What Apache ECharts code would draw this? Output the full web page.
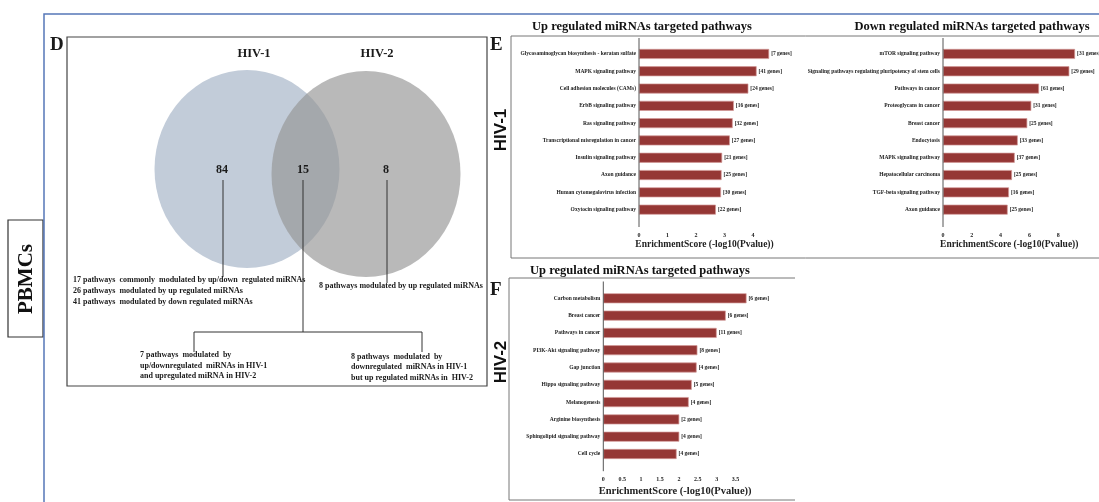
<!DOCTYPE html>
<html><head><meta charset="utf-8">
<script src="https://cdn.jsdelivr.net/npm/echarts@6/dist/echarts.min.js"></script>
<style>html,body{margin:0;padding:0;background:#fff}#c{width:1099px;height:502px}</style>
</head><body><div id="c"></div>
<script>
const SERIF = "'Liberation Serif','Times New Roman',serif";
const SANS = "'Liberation Sans',Arial,sans-serif";

// ---- Panel E (HIV-1, up regulated) ----
const e1Categories = ['Glycosaminoglycan biosynthesis - keratan sulfate','MAPK signaling pathway','Cell adhesion molecules (CAMs)','ErbB signaling pathway','Ras signaling pathway','Transcriptional misregulation in cancer','Insulin signaling pathway','Axon guidance','Human cytomegalovirus infection','Oxytocin signaling pathway'];
const e1Values = [4.57, 4.13, 3.84, 3.33, 3.29, 3.19, 2.92, 2.90, 2.88, 2.70];
const e1Genes = [7, 41, 24, 16, 32, 27, 21, 25, 30, 22];
const e1Ticks = [0, 1, 2, 3, 4];

// ---- Panel E (HIV-1, down regulated) ----
const e2Categories = ['mTOR signaling pathway','Signaling pathways regulating pluripotency of stem cells','Pathways in cancer','Proteoglycans in cancer','Breast cancer','Endocytosis','MAPK signaling pathway','Hepatocellular carcinoma','TGF-beta signaling pathway','Axon guidance'];
const e2Values = [9.17, 8.77, 6.67, 6.13, 5.85, 5.19, 4.98, 4.79, 4.58, 4.49];
const e2Genes = [31, 29, 61, 31, 25, 33, 37, 25, 16, 25];
const e2Ticks = [0, 2, 4, 6, 8];

// ---- Panel F (HIV-2, up regulated) ----
const fCategories = ['Carbon metabolism','Breast cancer','Pathways in cancer','PI3K-Akt signaling pathway','Gap junction','Hippo signaling pathway','Melanogenesis','Arginine biosynthesis','Sphingolipid signaling pathway','Cell cycle'];
const fValues = [3.79, 3.24, 3.00, 2.49, 2.47, 2.34, 2.26, 2.01, 2.01, 1.94];
const fGenes = [6, 6, 11, 8, 4, 5, 4, 2, 4, 4];
const fTicks = [0, 0.5, 1, 1.5, 2, 2.5, 3, 3.5];

// ---- Panel D (Venn) ----
const vennSets = ['HIV-1', 'HIV-2'];
const vennCounts = [84, 15, 8];
const vennNotes = [
  ['17 pathways  commonly  modulated by up/down  regulated miRNAs', '26 pathways  modulated by up regulated miRNAs', '41 pathways  modulated by down regulated miRNAs'],
  ['8 pathways modulated by up regulated miRNAs'],
  ['7 pathways  modulated  by', 'up/downregulated  miRNAs in HIV-1', 'and upregulated miRNA in HIV-2'],
  ['8 pathways  modulated  by', 'downregulated  miRNAs in HIV-1', 'but up regulated miRNAs in  HIV-2']
];
const axisName = 'EnrichmentScore (-log10(Pvalue))';
const panelTitles = ['Up regulated miRNAs targeted pathways', 'Down regulated miRNAs targeted pathways', 'Up regulated miRNAs targeted pathways'];

const grids = [], xAxes = [], yAxes = [], series = [];
function addBar(cats, vals, genes, ticks, max, pos, offset, nameGap, nameSize) {
  const i = grids.length;
  grids.push(Object.assign({containLabel: false}, pos));
  xAxes.push({
    gridIndex: i, type: 'value', min: 0, max: max, offset: offset,
    axisLine: {lineStyle: {color: '#555', width: 1}},
    axisTick: {inside: true, length: 2.5, customValues: ticks, lineStyle: {color: '#555'}},
    axisLabel: {customValues: ticks, fontSize: 6, fontWeight: 'bold', fontFamily: SERIF, color: '#222', margin: 5},
    splitLine: {show: false},
    name: axisName, nameLocation: 'middle', nameGap: nameGap,
    nameTextStyle: {fontSize: nameSize, fontWeight: 'bold', fontFamily: SERIF, color: '#222'}
  });
  yAxes.push({
    gridIndex: i, type: 'category', inverse: true, data: cats,
    axisLine: {show: false}, axisTick: {show: false},
    axisLabel: {interval: 0, fontSize: 5.5, fontWeight: 'bold', fontFamily: SERIF, color: '#222', margin: 3}
  });
  series.push({
    type: 'bar', xAxisIndex: i, yAxisIndex: i, data: vals, barWidth: 10,
    itemStyle: {color: '#953735', borderColor: '#d39a98', borderWidth: 0.7},
    label: {show: true, position: 'right', distance: 2,
      formatter: p => '[' + genes[p.dataIndex] + ' genes]',
      fontSize: 5.5, fontWeight: 'bold', fontFamily: SERIF, color: '#222'}
  });
}
addBar(e1Categories, e1Values, e1Genes, e1Ticks, 4.6, {left: 639, top: 45.3, width: 131, height: 173}, 8.7, 13, 9.5);
addBar(e2Categories, e2Values, e2Genes, e2Ticks, 9.2, {left: 943, top: 45.3, width: 132.5, height: 173}, 8.7, 13, 9.5);
addBar(fCategories, fValues, fGenes, fTicks, 3.8, {left: 603.3, top: 289.65, width: 143.6, height: 173}, 8.5, 15, 10.5);

// Venn grid (hidden), pixel-like units inside the D box
const vi = grids.length;
grids.push({left: 67, top: 37, width: 420, height: 349});
xAxes.push({gridIndex: vi, type: 'value', min: 0, max: 420, show: false});
yAxes.push({gridIndex: vi, type: 'value', min: 0, max: 349, inverse: true, show: false});
series.push({
  type: 'scatter', xAxisIndex: vi, yAxisIndex: vi, silent: true, z: 1,
  data: [
    {name: vennSets[0], value: [180, 132], symbolSize: [185, 198], itemStyle: {color: '#c2ccd9', opacity: 1}},
    {name: vennSets[1], value: [299, 137], symbolSize: [189, 206], itemStyle: {color: '#949494', opacity: 0.66}}
  ]
});
const labelSeries = (pts, texts, size) => ({
  type: 'scatter', xAxisIndex: vi, yAxisIndex: vi, silent: true, z: 3, symbolSize: 1,
  itemStyle: {opacity: 0},
  data: pts.map((v, k) => ({value: v, label: {formatter: String(texts[k])}})),
  label: {show: true, position: 'inside', fontSize: size, fontWeight: 'bold', fontFamily: SERIF, color: '#1a1a1a', opacity: 1}
});
series.push(labelSeries([[155, 133], [236, 133], [319, 133]], vennCounts, 12));
series.push(labelSeries([[187, 17], [310, 17]], vennSets, 12.5));

const L = '#333';
function line(pts, color, w) { return {type: 'polyline', shape: {points: pts}, style: {stroke: color || L, lineWidth: w || 1, fill: null}, z: 10}; }
function txt(x, y, t, font, extra) { return {type: 'text', x: x, y: y, style: Object.assign({text: t, font: font, fill: '#1a1a1a', align: 'left', verticalAlign: 'top'}, extra || {}), z: 10}; }
const noteFont = 'bold 8px ' + SERIF;

const graphic = [
  line([[44, 503], [44, 14], [1100, 14]], '#5577b8', 1.5),
  {type: 'rect', shape: {x: 8, y: 220, width: 35, height: 117}, style: {stroke: '#333', lineWidth: 1.2, fill: '#fff'}, z: 9},
  {type: 'text', x: 27, y: 279, rotation: Math.PI / 2, style: {text: 'PBMCs', font: 'bold 21px ' + SERIF, fill: '#111', align: 'center', verticalAlign: 'middle'}, z: 10},
  txt(50, 36, 'D', 'bold 19px ' + SERIF),
  {type: 'rect', shape: {x: 67, y: 37, width: 420, height: 349}, style: {stroke: '#444', lineWidth: 1.2, fill: null}, z: 10},
  line([[223, 180], [223, 277]]),
  line([[387, 180], [387, 283]]),
  line([[303, 180], [303, 332]]),
  line([[194, 352], [194, 332], [422, 332], [422, 352]]),
  txt(73, 275, vennNotes[0].join('\n'), noteFont, {lineHeight: 10.8}),
  txt(319, 281, vennNotes[1].join('\n'), noteFont, {lineHeight: 10.8}),
  txt(140, 350, vennNotes[2].join('\n'), noteFont, {lineHeight: 10.5}),
  txt(351, 352, vennNotes[3].join('\n'), noteFont, {lineHeight: 10.2}),
  // E panel frame
  line([[1100, 36], [511, 36], [511, 258], [1100, 258]], '#777', 1),
  txt(490, 36, 'E', 'bold 19px ' + SERIF),
  {type: 'text', x: 501, y: 130, rotation: Math.PI / 2, style: {text: 'HIV-1', font: 'bold 17px ' + SANS, fill: '#111', align: 'center', verticalAlign: 'middle'}, z: 10},
  // F panel frame
  line([[795, 278], [509, 278], [509, 500], [795, 500]], '#777', 1),
  txt(490, 281, 'F', 'bold 19px ' + SERIF),
  {type: 'text', x: 501, y: 362, rotation: Math.PI / 2, style: {text: 'HIV-2', font: 'bold 17px ' + SANS, fill: '#111', align: 'center', verticalAlign: 'middle'}, z: 10},
  // titles
  {type: 'text', x: 642, y: 27, style: {text: panelTitles[0], font: 'bold 12.5px ' + SERIF, fill: '#111', align: 'center', verticalAlign: 'middle'}, z: 10},
  {type: 'text', x: 972, y: 27, style: {text: panelTitles[1], font: 'bold 12.5px ' + SERIF, fill: '#111', align: 'center', verticalAlign: 'middle'}, z: 10},
  {type: 'text', x: 640, y: 271, style: {text: panelTitles[2], font: 'bold 12.5px ' + SERIF, fill: '#111', align: 'center', verticalAlign: 'middle'}, z: 10},
  // y-axis spines (extend past category band like the original)
  line([[639, 38], [639, 227]], '#555', 1),
  line([[943, 38], [943, 227]], '#555', 1),
  line([[603.3, 281.5], [603.3, 471.2]], '#555', 1)
];

const chart = echarts.init(document.getElementById('c'), null, {renderer: 'canvas'});
chart.setOption({
  animation: false,
  backgroundColor: '#fff',
  grid: grids, xAxis: xAxes, yAxis: yAxes, series: series,
  graphic: graphic
});
</script></body></html>
